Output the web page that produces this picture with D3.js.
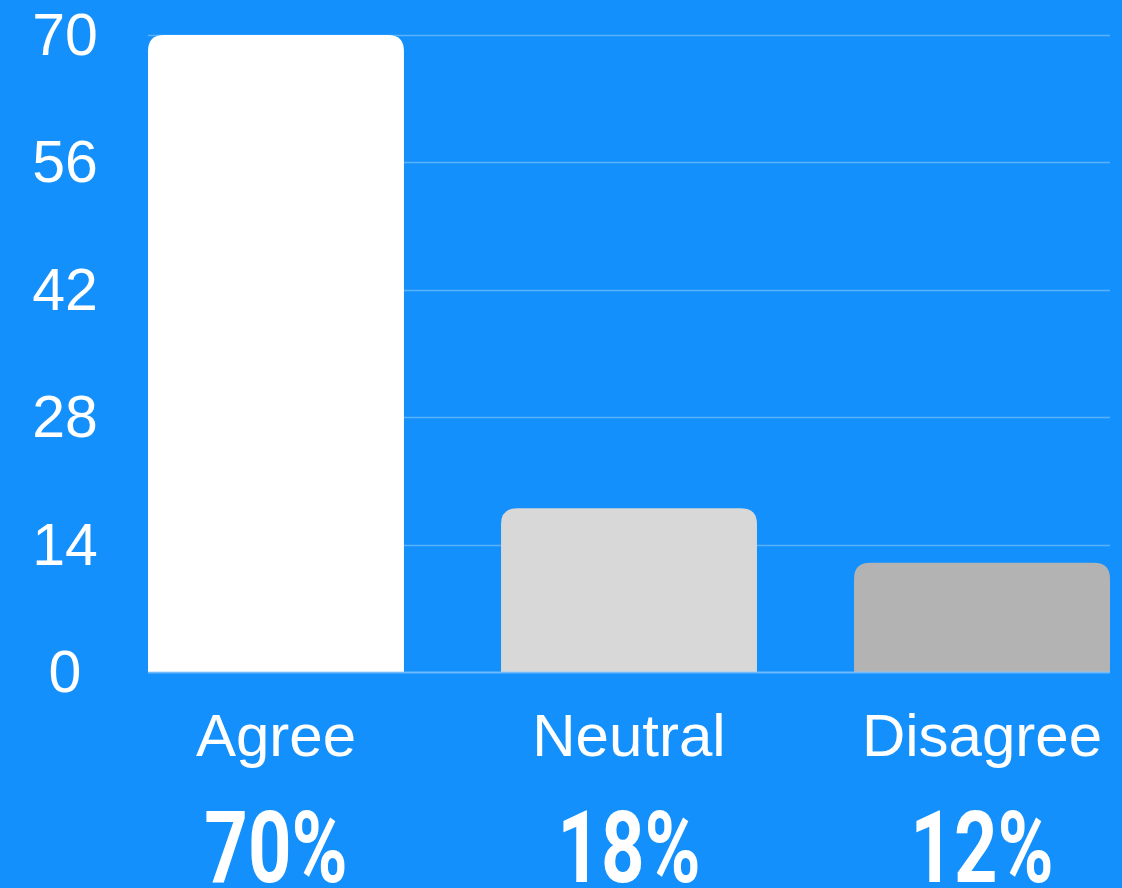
<!DOCTYPE html>
<html>
<head>
<meta charset="utf-8">
<script src="https://cdn.jsdelivr.net/npm/d3@7"></script>
<style>
  html, body { margin: 0; padding: 0; background: #1390fb; }
  svg { display: block; }
</style>
</head>
<body>
<svg id="chart" width="1122" height="888"></svg>
<script>
// Survey responses
const categories = ["Agree", "Neutral", "Disagree"];
const values = [70, 18, 12];
const percentLabels = ["70%", "18%", "12%"];
const barColors = ["#ffffff", "#d8d8d8", "#b3b3b3"];
const yTicks = [0, 14, 28, 42, 56, 70];

const W = 1122, H = 888;
const margin = { left: 148, right: 12, top: 35, bottom: 216 };

const svg = d3.select("#chart");

const x = d3.scaleBand()
  .domain(categories)
  .range([margin.left, W - margin.right])
  .paddingInner(0.275)
  .paddingOuter(0);

const y = d3.scaleLinear()
  .domain([0, 70])
  .range([H - margin.bottom, margin.top]);

// horizontal gridlines
svg.append("g")
  .selectAll("line")
  .data(yTicks.filter(d => d > 0))
  .join("line")
  .attr("x1", margin.left)
  .attr("x2", W - margin.right)
  .attr("y1", d => Math.round(y(d)) + 0.5)
  .attr("y2", d => Math.round(y(d)) + 0.5)
  .attr("stroke", "rgba(255,255,255,0.3)")
  .attr("stroke-width", 1.4);

// bars with rounded top corners
const r = 16;
function topRounded(x0, y0, w, h, rad) {
  const rr = Math.min(rad, h, w / 2);
  return `M${x0},${y0 + h}V${y0 + rr}Q${x0},${y0} ${x0 + rr},${y0}` +
         `H${x0 + w - rr}Q${x0 + w},${y0} ${x0 + w},${y0 + rr}V${y0 + h}Z`;
}
svg.append("g")
  .selectAll("path")
  .data(categories)
  .join("path")
  .attr("d", (c, i) => topRounded(x(c), y(values[i]), x.bandwidth(), y(0) - y(values[i]), r))
  .attr("fill", (c, i) => barColors[i]);

// baseline
svg.append("line")
  .attr("x1", margin.left)
  .attr("x2", W - margin.right)
  .attr("y1", y(0) + 0.5)
  .attr("y2", y(0) + 0.5)
  .attr("stroke", "rgba(140,200,255,0.75)")
  .attr("stroke-width", 2);

// y-axis labels
svg.append("g")
  .selectAll("text")
  .data(yTicks)
  .join("text")
  .attr("x", 65)
  .attr("y", d => y(d) + 20)
  .attr("text-anchor", "middle")
  .attr("fill", "#ffffff")
  .attr("font-family", "'Liberation Sans', Arial, sans-serif")
  .attr("font-size", 59)
  .text(d => d);

// category labels
svg.append("g")
  .selectAll("text")
  .data(categories)
  .join("text")
  .attr("x", c => x(c) + x.bandwidth() / 2)
  .attr("y", 756)
  .attr("text-anchor", "middle")
  .attr("fill", "#ffffff")
  .attr("font-family", "'Liberation Sans', Arial, sans-serif")
  .attr("font-size", 60)
  .text(c => c);

// percentage labels (condensed bold)
svg.append("g")
  .selectAll("text")
  .data(categories)
  .join("text")
  .attr("transform", c => `translate(${x(c) + x.bandwidth() / 2},882) scale(0.76,1)`)
  .attr("text-anchor", "middle")
  .attr("fill", "#ffffff")
  .attr("font-family", "Roboto, sans-serif")
  .attr("font-weight", 700)
  .attr("font-size", 100)
  .text((c, i) => percentLabels[i]);
</script>
</body>
</html>
